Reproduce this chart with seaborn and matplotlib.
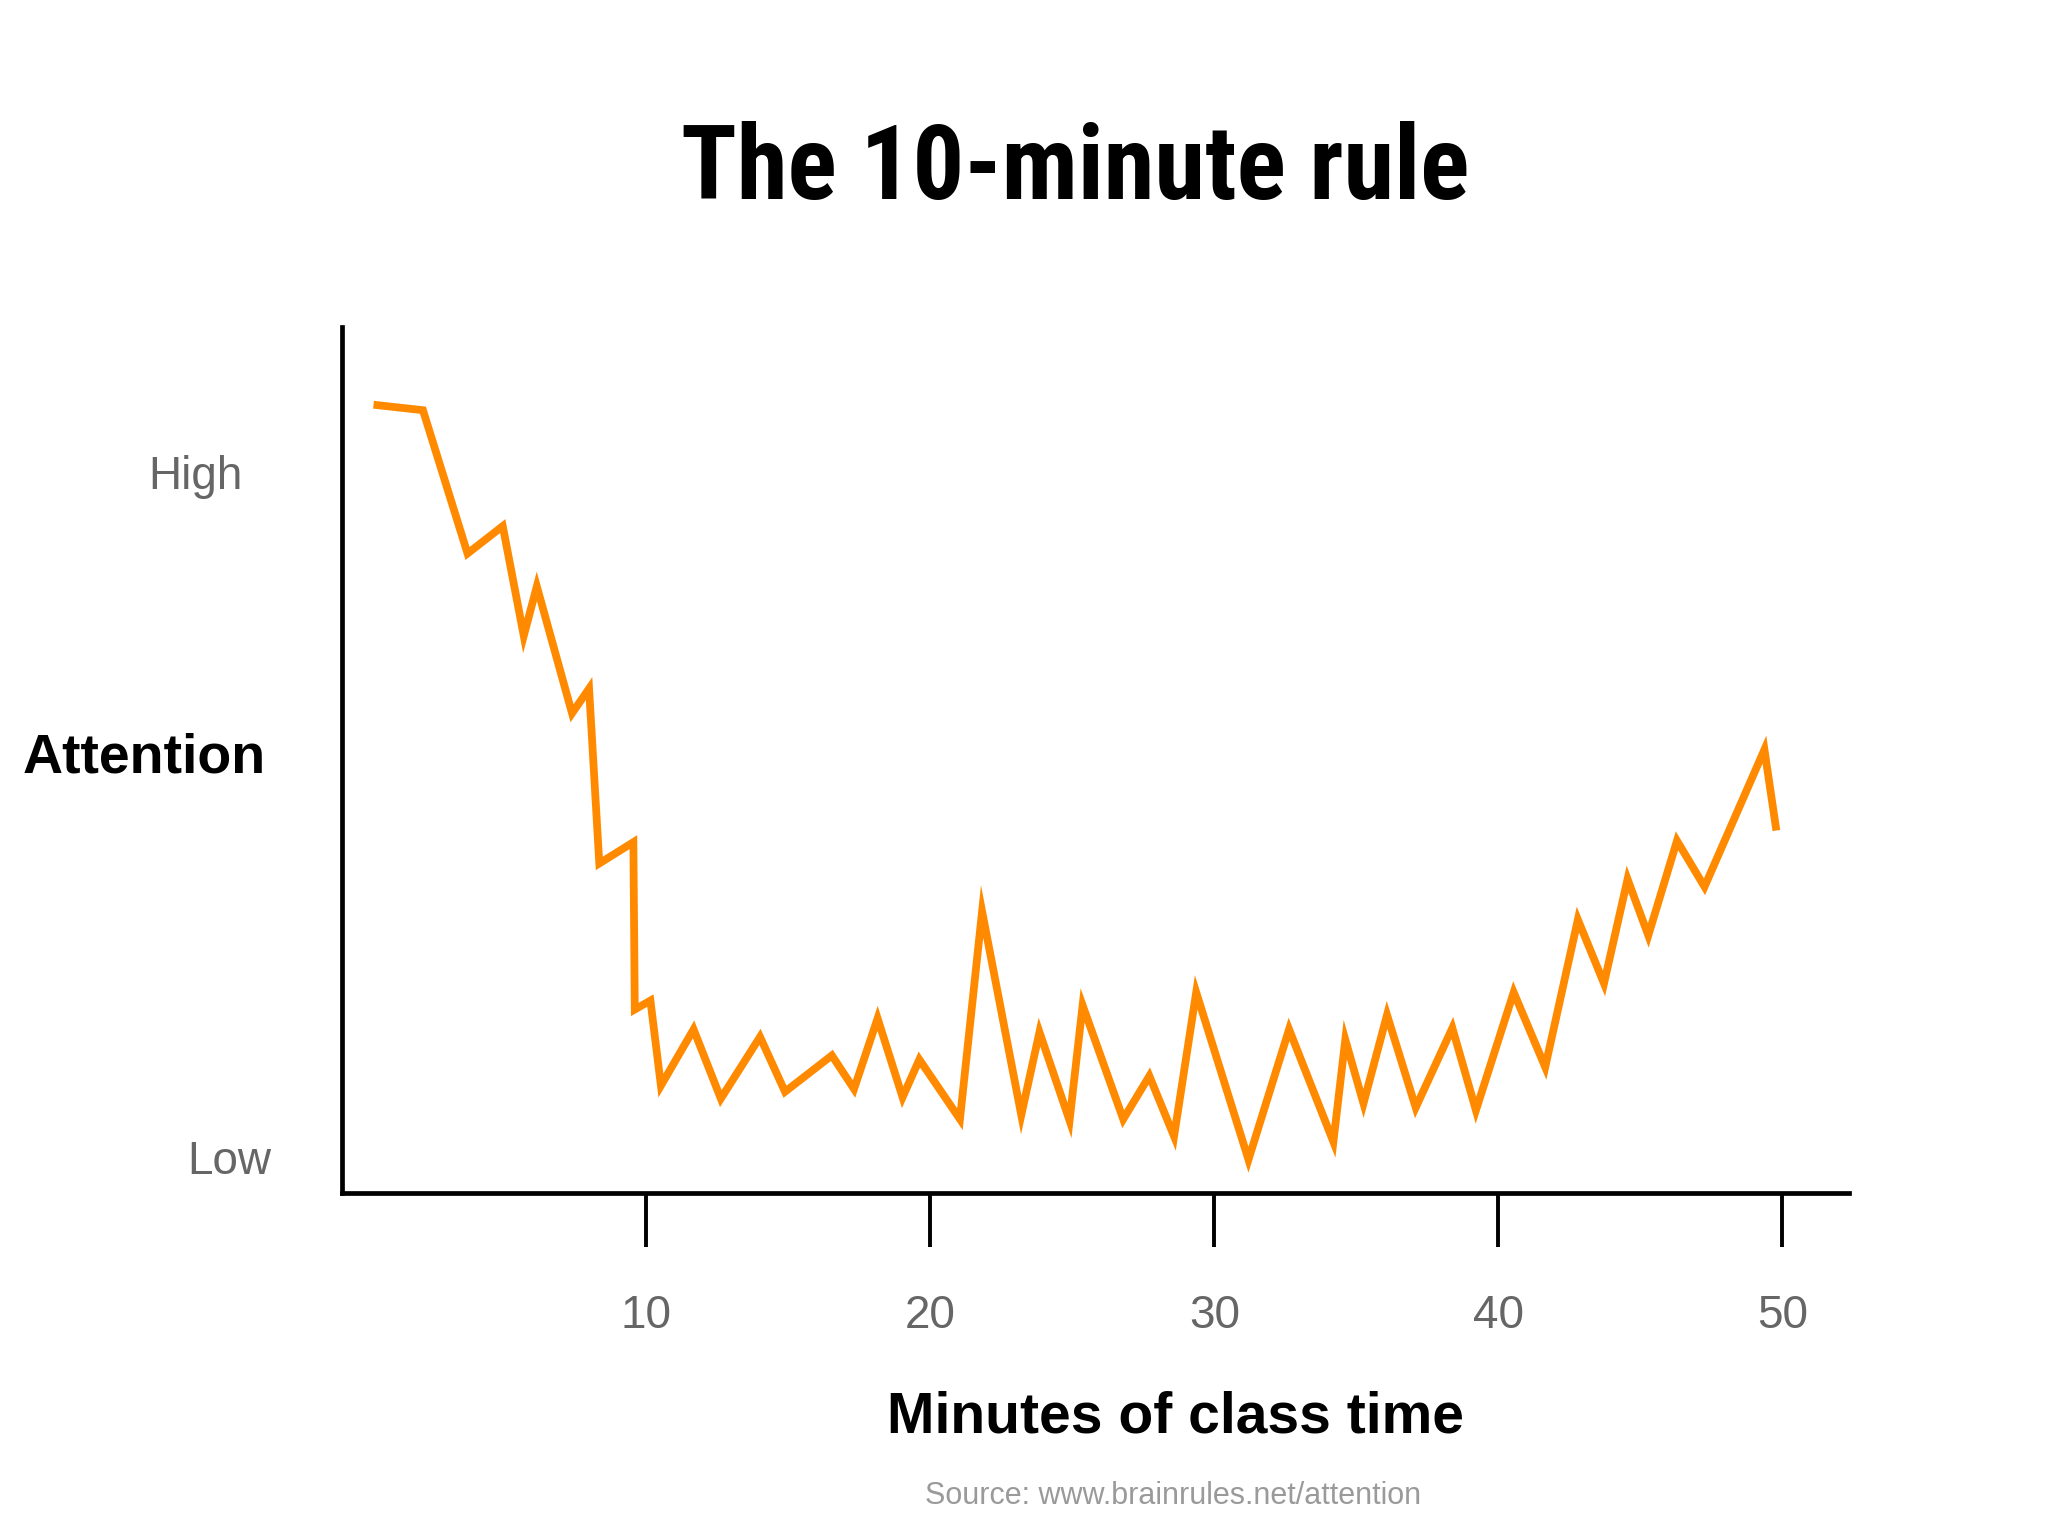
import pandas as pd
import seaborn as sns
import matplotlib.pyplot as plt

ORANGE = "#ff8a00"
GRAY = "#666666"

# minutes of class time vs. attention (0 = Low, 10 = High)
minutes = [0.39, 2.13, 3.70, 4.94, 5.68, 6.14, 7.38, 7.98, 8.34, 9.54,
           9.59, 10.14, 10.51, 11.66, 12.62, 14.00, 14.88, 16.53, 17.31, 18.14,
           19.02, 19.61, 21.04, 21.82, 23.20, 23.84, 24.90, 25.36, 26.79, 27.71,
           28.58, 29.36, 31.20, 32.63, 34.19, 34.61, 35.25, 36.08, 37.09, 38.38,
           39.21, 40.54, 41.65, 42.80, 43.72, 44.55, 45.28, 46.29, 47.26, 49.37,
           49.79]
attention = [11.05, 10.97, 8.88, 9.28, 7.68, 8.40, 6.55, 6.91, 4.36, 4.67,
             2.23, 2.36, 1.12, 1.94, 0.93, 1.83, 1.03, 1.56, 1.07, 2.10,
             0.95, 1.50, 0.63, 3.66, 0.69, 1.90, 0.61, 2.29, 0.63, 1.26,
             0.38, 2.48, 0.04, 1.94, 0.30, 1.79, 0.86, 2.15, 0.80, 1.96,
             0.76, 2.48, 1.39, 3.54, 2.61, 4.13, 3.31, 4.69, 4.02, 6.02,
             4.84]

x_ticks = [10, 20, 30, 40, 50]
level_labels = ["Low", "High"]
level_values = [0, 10]

sns.set_theme(style="white")
plt.rcParams["font.family"] = ["Liberation Sans", "DejaVu Sans"]

df = pd.DataFrame({"minute": minutes, "attention": attention})

fig = plt.figure(figsize=(20.48, 15.36), dpi=100, facecolor="white")
ax = fig.add_axes([0.167, 0.2236, 0.736, 0.5638])

sns.lineplot(data=df, x="minute", y="attention", ax=ax, color=ORANGE,
             linewidth=5.6, estimator=None, sort=False)
for line in ax.lines:
    line.set_solid_joinstyle("miter")
    line.set_solid_capstyle("butt")

ax.set_xlim(-0.72, 52.36)
ax.set_ylim(-0.44, 12.19)

for side in ["top", "right"]:
    ax.spines[side].set_visible(False)
for side in ["left", "bottom"]:
    ax.spines[side].set_color("black")
    ax.spines[side].set_linewidth(3.4)

ax.set_xticks(x_ticks)
ax.set_xticklabels([str(t) for t in x_ticks])
ax.tick_params(axis="x", direction="out", length=39, width=2.8, color="black",
               pad=34, labelsize=33, labelcolor=GRAY, bottom=True)
ax.set_yticks([])
ax.set_xlabel("")
ax.set_ylabel("")

# High / Low level labels
yt = ax.get_yaxis_transform()
ax.text(-0.0468, level_values[0], level_labels[0], transform=yt, ha="right",
        va="center", fontsize=33, color=GRAY)
ax.text(-0.0659, level_values[1], level_labels[1], transform=yt, ha="right",
        va="center", fontsize=33, color=GRAY)

fig.text(0.525, 0.889, "The 10-minute rule", ha="center", va="center",
         fontsize=74, fontweight="heavy", color="black",
         family=["Roboto Condensed", "Barlow Condensed", "Liberation Sans"])
fig.text(0.0702, 0.506, "Attention", ha="center", va="center",
         fontsize=40, fontweight="bold", color="black")
fig.text(0.574, 0.0774, "Minutes of class time", ha="center", va="center",
         fontsize=41, fontweight="bold", color="black")
fig.text(0.573, 0.026, "Source: www.brainrules.net/attention", ha="center",
         va="center", fontsize=22, color="#9a9a9a")

fig.savefig("out.png", dpi=100, facecolor="white")
plt.close(fig)
